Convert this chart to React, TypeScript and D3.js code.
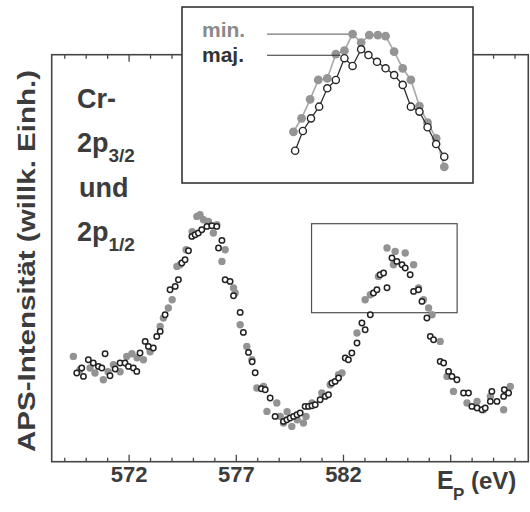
import React from "react";
import * as d3 from "d3";

// ---- data (energy in eV, intensity in arbitrary units) ----
const majE = [569.56,569.79,569.87,570.10,570.33,570.57,570.73,570.88,571.11,571.35,571.58,571.81,571.97,572.20,572.36,572.51,572.75,572.90,573.13,573.29,573.45,573.68,573.91,574.15,574.30,574.46,574.61,574.77,574.93,575.08,575.23,575.39,575.63,575.86,576.09,576.17,576.33,576.48,576.71,576.87,577.18,577.33,577.57,577.74,577.88,578.17,578.35,578.58,578.81,579.20,579.36,579.51,579.67,579.83,579.98,580.21,580.37,580.53,580.68,580.91,581.15,581.30,581.46,581.61,581.77,582.08,582.23,582.39,582.63,582.86,583.01,583.25,583.40,583.56,583.71,583.87,584.03,584.26,584.49,584.73,584.88,585.11,585.27,585.50,585.66,585.89,586.05,586.20,586.51,586.67,586.90,587.06,587.29,587.60,587.83,587.99,588.23,588.46,588.61,588.85,588.92,589.16,589.47,589.50,589.70];
const majI = [88.7,93.7,85.3,102,98.7,95.3,93.7,108,86,92.7,98.7,98.7,95.3,93.7,90.3,108.7,120.3,115.3,113.7,125.3,130.3,147,172,175.3,182,198.7,202,211,225.3,227,228.7,232,235.3,236,235.3,213.7,221.3,182,180.3,166,149.3,129.3,109.3,100,89,73,72,63.7,45.3,40.3,42,43.7,45.3,47,48.7,55.3,55.3,56,57,62,65.3,67,78.7,80.3,83.7,103.7,102,108.7,118.7,138.7,132,147,168.7,172,187,188.7,174,203.7,200.3,197,193.7,187,170.3,172,160.3,143.7,125.3,122,100.3,98.7,90.3,85.3,82,68.7,68.7,55.3,53.7,52,53.7,60.3,70.3,60.3,65.3,72,68.7];

const minE = [569.40,569.71,570.18,570.41,570.80,571.02,571.27,571.58,571.89,572.13,572.37,572.67,572.98,573.45,573.60,573.83,574.01,574.23,574.38,574.66,574.94,575.16,575.31,575.47,575.70,575.93,576.09,576.33,576.48,576.87,576.95,577.18,577.49,577.73,577.96,578.27,578.43,578.89,579.05,579.20,579.37,579.59,579.84,580.13,580.25,580.53,580.99,581.38,581.77,581.93,582.63,583.01,583.25,583.63,584.03,584.33,584.41,584.88,585.27,585.50,585.73,585.97,586.13,586.51,586.83,587.13,587.76,588.23,588.53,588.85,589.47,589.78];
const minI = [105.3,92,93.7,88.7,82,90,97,90,105.3,108,104,102,110,135.3,143.7,153.7,162,195.3,197,212,230,245.3,247,242,240.3,228.7,237,200.3,212,173.7,168.7,137,115.3,102,73.7,75.3,50.3,58.7,45.3,38.7,50,35.3,42,38.7,45.3,58.7,68.7,77,87,88.7,128.7,162,167,185.3,213.7,197,210.3,208.7,197,173.7,162,153.7,147,120.3,85.3,70.3,58.7,60.3,52,65.3,52,75.3];

// inset (magnified 2p1/2 peak)
const insetMajE = [583.15,583.33,583.52,583.71,583.90,584.10,584.30,584.49,584.69,584.86,585.06,585.26,585.46,585.66,585.85,586.05,586.24,586.44,586.63];
const insetMajI = [165.3,175.3,181.7,187.6,196.9,201.1,212.1,208.2,216.6,213.7,210.3,207,203.6,198.6,187.6,185.1,177.2,168.7,162.3];
const insetMinE = [583.11,583.30,583.50,583.69,583.90,584.10,584.30,584.49,584.69,584.88,585.08,585.26,585.46,585.66,585.85,586.05,586.24,586.44,586.63];
const insetMinI = [174.9,181.7,191.3,201.1,201.9,214.2,215.9,224.3,220,223.8,223.8,223.3,215.4,207,201.1,187.9,179.5,171.6,157.2];

const xTickLabels = [572, 577, 582];
const majorTicks = [572, 577, 582, 587];
const minorTicks = d3.range(569, 591, 1);
const zoomWindowE = [580.51, 587.3];
const zoomWindowI = [149, 238];

const FONT = "'Liberation Sans', Arial, Helvetica, sans-serif";

export default function App() {
  const W = 530, H = 512;
  const xs = d3.scaleLinear().domain([568.39, 590.62]).range([51.7, 528.3]);
  const ys = d3.scaleLinear().domain([0, 407]).range([461.7, 54.7]);

  const xi = d3.scaleLinear().domain(zoomWindowE).range([182, 473]);
  const yi = d3.scaleLinear().domain(zoomWindowI).range([183, 7]);

  const maj = majE.map((e, k) => ({ e, i: majI[k] }));
  const mn = minE.map((e, k) => ({ e, i: minI[k] }));
  const iMaj = insetMajE.map((e, k) => ({ e, i: insetMajI[k] }));
  const iMin = insetMinE.map((e, k) => ({ e, i: insetMinI[k] }));

  const lineIn = d3.line<{ e: number; i: number }>().x(d => xi(d.e)).y(d => yi(d.i));

  const [x0, x1] = xs.range();
  const [yb, yt] = ys.range();
  const textCol = "#3c3c3c";

  const minPeak = iMin[7];
  const majPeak = iMaj[6];

  return (
    <svg width={W} height={H} style={{ position: "absolute", left: 0, top: 0, background: "#fff" }} fontFamily={FONT}>
      <rect x={0} y={0} width={W} height={H} fill="#fff" />
      {/* frame */}
      <rect x={x0} y={yt} width={x1 - x0} height={yb - yt} fill="none" stroke="#454545" strokeWidth={1.6} />
      {/* ticks bottom & top */}
      {minorTicks.map(t => {
        const len = majorTicks.includes(t) ? 7 : 4;
        return (
          <g key={"t" + t}>
            <line x1={xs(t)} x2={xs(t)} y1={yb} y2={yb - len} stroke="#454545" strokeWidth={1.3} />
            <line x1={xs(t)} x2={xs(t)} y1={yt} y2={yt + len} stroke="#454545" strokeWidth={1.3} />
          </g>
        );
      })}
      {xTickLabels.map(t => (
        <text key={"l" + t} x={xs(t)} y={482} textAnchor="middle" fontSize={22} fontWeight="bold" fill={textCol}>{t}</text>
      ))}
      {/* axis titles */}
      <text x={437} y={489} fontSize={25} fontWeight="bold" fill={textCol}>E</text>
      <text x={453} y={500} fontSize={17} fontWeight="bold" fill={textCol}>P</text>
      <text x={471} y={489} fontSize={24} fontWeight="bold" fill={textCol}>(eV)</text>
      <text transform="translate(35,261) rotate(-90)" textAnchor="middle" fontSize={24} fontWeight="bold" fill={textCol}
        textLength={382} lengthAdjust="spacingAndGlyphs">APS-Intensität (willk. Einh.)</text>

      {/* label block */}
      <g fontWeight="bold" fill={textCol}>
        <text x={77} y={108} fontSize={27}>Cr-</text>
        <text x={77} y={152} fontSize={27}>2p<tspan fontSize={19} dy={10}>3/2</tspan></text>
        <text x={79} y={197} fontSize={27}>und</text>
        <text x={77} y={241} fontSize={27}>2p<tspan fontSize={19} dy={10}>1/2</tspan></text>
      </g>

      {/* zoom window */}
      <rect x={xs(zoomWindowE[0])} y={ys(zoomWindowI[1])} width={xs(zoomWindowE[1]) - xs(zoomWindowE[0])}
        height={ys(zoomWindowI[0]) - ys(zoomWindowI[1])} fill="none" stroke="#505050" strokeWidth={1.2} />

      {/* main data */}
      {mn.map((d, k) => (
        <circle key={"m" + k} cx={xs(d.e)} cy={ys(d.i)} r={3.7} fill="#939393" />
      ))}
      {maj.map((d, k) => (
        <circle key={"j" + k} cx={xs(d.e)} cy={ys(d.i)} r={2.7} fill="#fff" stroke="#222" strokeWidth={1.5} />
      ))}

      {/* inset */}
      <rect x={182} y={7} width={291} height={176} fill="#fff" stroke="#353535" strokeWidth={1.6} />
      <path d={lineIn(iMin) || ""} fill="none" stroke="#a8a8a8" strokeWidth={1.6} />
      {iMin.map((d, k) => (
        <circle key={"im" + k} cx={xi(d.e)} cy={yi(d.i)} r={4.4} fill="#959595" />
      ))}
      <path d={lineIn(iMaj) || ""} fill="none" stroke="#2e2e2e" strokeWidth={1.3} />
      {iMaj.map((d, k) => (
        <circle key={"ij" + k} cx={xi(d.e)} cy={yi(d.i)} r={3.6} fill="#fff" stroke="#262626" strokeWidth={1.4} />
      ))}
      <text x={202} y={37} fontSize={21} fontWeight="bold" fill="#8a8a8a">min.</text>
      <text x={202} y={62} fontSize={21} fontWeight="bold" fill="#333">maj.</text>
      <line x1={267} x2={xi(minPeak.e) - 4} y1={yi(minPeak.i)} y2={yi(minPeak.i)} stroke="#777" strokeWidth={1.1} />
      <line x1={267} x2={xi(majPeak.e) - 4} y1={yi(majPeak.i) - 3} y2={yi(majPeak.i) - 3} stroke="#333" strokeWidth={1.1} />
    </svg>
  );
}
